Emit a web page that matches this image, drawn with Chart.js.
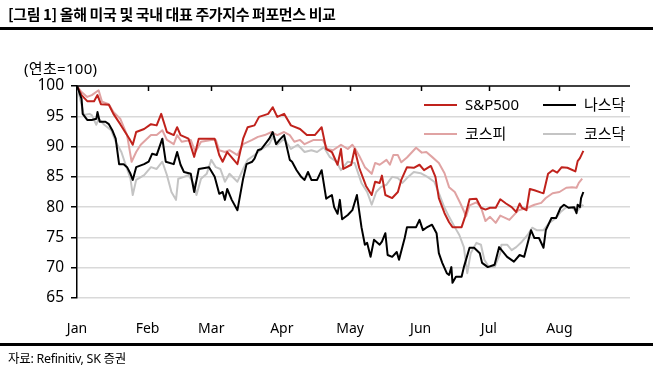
<!DOCTYPE html>
<html>
<head>
<meta charset="utf-8">
<script src="https://cdn.jsdelivr.net/npm/chart.js@4"></script>
<style>
  body { margin: 0; background: #fff; }
  #wrap { position: relative; width: 653px; height: 370px; overflow: hidden;
          font-family: "Noto Sans", "Noto Sans CJK KR", sans-serif; color: #000; }
  #title { position: absolute; left: 8px; top: 3px; font-size: 15px; font-weight: bold;
           font-family: "Noto Sans CJK KR", sans-serif; letter-spacing: -0.4px; }
  #titleRule { position: absolute; left: 0; top: 27px; width: 653px; height: 3px; background: #000; }
  #unit { position: absolute; left: 24px; top: 57px; font-size: 15px; letter-spacing: 0.3px; }
  #srcRule { position: absolute; left: 0; top: 343px; width: 653px; height: 3px; background: #000; }
  #source { position: absolute; left: 8px; top: 348px; font-size: 12.5px; letter-spacing: -0.3px; }
  canvas { position: absolute; left: 0; top: 0; }
  .lg { position: absolute; font-size: 15px; line-height: 18px; }
  .lg i { display: inline-block; width: 33px; height: 2px; vertical-align: middle; margin-right: 8px; position: relative; top: -1px; }
</style>
</head>
<body>
<div id="wrap">
  <canvas id="chart" width="653" height="370"></canvas>
  <div id="title">[그림 1] 올해 미국 및 국내 대표 주가지수 퍼포먼스 비교</div>
  <div id="titleRule"></div>
  <div id="unit">(연초=100)</div>
  <div class="lg" style="left:424px;top:95px"><i style="background:#c0221c"></i>S&amp;P500</div>
  <div class="lg" style="left:543px;top:95px"><i style="background:#000"></i>나스닥</div>
  <div class="lg" style="left:424px;top:124px"><i style="background:#e0a3a3"></i>코스피</div>
  <div class="lg" style="left:543px;top:124px"><i style="background:#c4c4c4"></i>코스닥</div>
  <div id="srcRule"></div>
  <div id="source">자료: Refinitiv, SK 증권</div>
</div>
<script>
// day of year (0 = Jan 1) and index level (start of year = 100)
var monthStarts = [0, 31, 59, 90, 120, 151, 181, 212];
var monthLabels = ['Jan', 'Feb', 'Mar', 'Apr', 'May', 'Jun', 'Jul', 'Aug'];

var spData = [[0,100],[2,98.5],[4.5,97.5],[7.5,97.5],[9,98.5],[10.5,97],[14,96.9],[16,95.4],[19,93.7],[23,91.3],
  [24.5,90.3],[26,92.4],[29.5,92.9],[32.5,93.7],[35,93.5],[37,95.4],[39.5,92.4],[42.5,91.9],[44,93.2],[45.5,91.9],
  [49,91.3],[51.5,88.3],[53.5,91.3],[59,91.3],[60.5,91.3],[62.5,88.6],[64,87.5],[66,89.1],[70.5,87.1],[73,91.3],
  [75,93.2],[78,93.5],[80,94.9],[84,95.4],[86,96.5],[88,94.9],[91,95.4],[94,93.5],[98,92.9],[101,91.9],
  [104.5,91.9],[107.5,93.2],[109.5,89.6],[112,89.1],[114.5,87.0],[116,89.6],[117,86.3],[120.5,87.0],[122,89.6],[124,86.5],
  [127,83.5],[129.5,82.0],[131,84.2],[133,84.0],[134,85.2],[135.5,82.0],[138.5,81.5],[141,82.5],[142.5,84.5],[145,86.6],
  [148,86.5],[150.5,87.0],[152.5,86.1],[155.5,86.8],[157.5,85.0],[159,81.5],[161.5,79.0],[163.5,77.5],[165,76.7],[167,76.7],
  [169,76.7],[170.5,78.4],[172.5,81.3],[175.5,81.4],[177.5,79.9],[179.5,79.6],[181.5,79.9],[184,79.9],[186,81.3],[188.5,80.6],
  [191,80.0],[193,79.2],[194.5,80.6],[195.5,79.9],[197.5,79.5],[199,83.0],[201,82.8],[204,82.4],[205,82.3],[207,85.5],
  [209,86.1],[211,85.7],[213,86.6],[215.5,86.5],[219,85.9],[220,87.6],[221,88.1],[222.5,89.3]];

var nasdaqData = [[0,100],[2,97.9],[2.5,95.4],[4.5,94.4],[6.5,94.4],[8.5,94.6],[9,95.7],[10,94.1],[12.5,94.1],[14,93.7],
  [15.5,92.7],[17,91.3],[18.5,87.1],[20.5,87.1],[22,86.6],[23.5,85.5],[24.5,84.5],[26,86.6],[29.5,87.1],[31.5,87.5],
  [33,88.8],[35,88.6],[37.5,91.3],[39,87.5],[42.5,87.1],[44,89.1],[45.5,87.0],[47,85.8],[50,85.5],[51.5,82.5],
  [53.5,86.3],[58,86.6],[60.5,85.0],[62.5,82.2],[64,82.5],[65,81.2],[66,83.0],[68,81.2],[70.5,79.5],[73,84.7],
  [74.5,87.1],[77,87.5],[78,88.0],[79.5,89.4],[81,89.6],[83.5,90.8],[84.5,91.3],[86,92.4],[87.5,90.4],[89,91.1],
  [91,91.9],[93.5,87.8],[94.5,87.5],[96.5,86.1],[98.5,85.0],[100,84.5],[101.5,85.8],[103,84.5],[105.5,84.5],[107.5,86.1],
  [109.5,81.4],[112,82.0],[113,80.0],[114.5,78.9],[115.5,81.2],[116.5,78.0],[119,78.7],[121,79.5],[123,82.0],[125,76.7],
  [126.5,73.8],[127.5,74.1],[129,71.8],[130.5,74.6],[133,73.8],[134,74.3],[135.5,75.7],[136.5,72.1],[138.5,71.8],[140.5,72.6],
  [141.5,71.3],[144,74.9],[145,76.7],[147.5,76.7],[149,76.7],[150.5,77.9],[152,76.2],[153.5,76.6],[156,77.1],[158,75.7],
  [159,72.4],[160.5,70.8],[162.5,69.1],[163.5,68.8],[164.5,70.1],[165,67.5],[166.5,68.5],[169,68.5],[170,70.1],[172.5,73.3],
  [174.5,73.3],[177,72.4],[178,70.8],[180.5,70.1],[183.5,70.5],[185.5,73.4],[189,71.8],[192,71.0],[194.5,72.1],[196.5,71.8],
  [199.5,76.2],[201,74.9],[203,74.9],[205,73.3],[206,76.2],[208.5,78.2],[210.5,78.2],[212.5,79.9],[214,80.4],[216,79.9],
  [218.5,80.0],[219.5,79.0],[220,80.4],[221,80.0],[221.5,81.5],[222.5,82.5]];

var kospiData = [[0,100],[2,99.0],[4.5,98.2],[6.5,98.5],[9.5,99.3],[11,97.4],[14,97.0],[16,95.7],[19,94.6],[22,91.9],
  [24,87.5],[26,89.1],[28,90.3],[32.5,91.9],[35,91.9],[37.5,92.7],[39.5,91.1],[42.5,90.4],[44,91.9],[46,90.8],
  [50,91.1],[52,89.1],[54.5,90.8],[59,91.1],[61,91.1],[62.5,89.4],[65,89.1],[67,89.4],[70.5,88.6],[73,90.4],
  [77,91.1],[79.5,91.6],[82.5,91.9],[85.5,92.4],[88,91.9],[91,92.4],[93.5,91.9],[95.5,90.8],[98,91.1],[100,90.4],
  [104,91.1],[108,91.1],[110,89.6],[112.5,89.4],[116,90.3],[119,89.6],[121,90.3],[122,89.8],[124,88.5],[126.5,86.6],
  [129.5,85.5],[131,87.3],[133,87.0],[136,87.8],[137.5,87.0],[139,88.6],[141,88.6],[142.5,87.4],[145,88.2],[149,89.8],
  [151.5,89.0],[153.5,89.1],[156,88.3],[159,87.3],[161.5,85.6],[163.5,83.3],[166,82.5],[168.5,80.6],[171,78.5],[172.5,80.3],
  [175.5,80.8],[177.5,80.0],[179.5,77.7],[181.5,78.4],[184,77.4],[186,78.6],[190,77.9],[194,79.5],[198,79.9],[201,80.4],
  [204,80.7],[206,81.5],[209,82.3],[212,82.5],[215,83.2],[217.5,83.3],[219.5,83.2],[220.5,84.0],[222,84.7]];

var kosdaqData = [[0,100],[2,96.9],[3,95.2],[5.5,95.4],[6.5,95.2],[8.5,93.6],[9.5,94.6],[12,93.6],[15,92.7],[17,90.8],
  [19.5,89.1],[22,86.3],[23.5,84.7],[24.5,82.0],[26,84.5],[29.5,85.3],[32.5,86.6],[35,86.3],[37.5,87.5],[39.5,85.3],
  [41.5,82.5],[43.5,81.2],[44.5,84.7],[47,85.0],[49,85.3],[51.5,83.7],[52.5,82.0],[54.5,84.7],[57,85.5],[59,87.8],
  [61,86.6],[63,86.3],[65,84.2],[67,85.5],[70.5,84.2],[73,86.3],[75,87.8],[78,88.6],[80.5,89.4],[82.5,89.9],
  [84.5,90.4],[86,91.6],[88,90.3],[91,91.3],[94,89.6],[97,90.3],[100,89.1],[103,89.4],[105.5,89.1],[108.5,89.9],
  [111,88.3],[114,87.5],[116,86.1],[119,87.5],[122,87.3],[125,84.0],[127.5,82.5],[129.5,80.4],[131.5,82.5],[133.5,83.3],
  [136,83.7],[137.5,84.5],[138.5,85.0],[141,84.8],[143,84.0],[145,84.8],[148,85.8],[151,85.6],[154,85.0],[157,84.2],
  [159,82.3],[161.5,79.9],[163.5,78.4],[166,76.7],[168,75.4],[170,73.4],[171.5,69.1],[173,72.4],[175.5,74.1],[177.5,73.8],
  [179,71.3],[181,70.1],[183.5,70.1],[186,72.4],[186.5,73.8],[189,73.8],[191,72.9],[193,73.4],[195.5,74.3],[198,75.4],
  [200,76.6],[202,76.2],[205,76.2],[207.5,77.4],[210.5,78.2],[212.5,79.2],[215,80.0],[217.5,80.0],[219.5,79.2],[221,79.9],
  [222.5,80.4]];

function pts(arr) {
  return arr.map(function (p) { return { x: p[0], y: p[1] }; });
}

// black top line at 100 with month ticks hanging down
var topAxis = {
  id: 'topAxis',
  afterDatasetsDraw: function (chart) {
    var ctx = chart.ctx, xs = chart.scales.x, a = chart.chartArea;
    var y0 = chart.scales.y.getPixelForValue(100);
    ctx.save();
    ctx.strokeStyle = '#000';
    ctx.lineWidth = 1.5;
    ctx.beginPath();
    ctx.moveTo(a.left, y0);
    ctx.lineTo(a.right, y0);
    monthStarts.forEach(function (d) {
      if (d === 0) return;
      var px = Math.round(xs.getPixelForValue(d)) + 0.5;
      ctx.moveTo(px, y0);
      ctx.lineTo(px, y0 + 5);
    });
    ctx.stroke();
    ctx.restore();
  }
};

var tickFont = { family: '"Noto Sans", "Noto Sans CJK KR", sans-serif', size: 14 };

var config = {
  type: 'line',
  data: {
    datasets: [
      { label: '나스닥', data: pts(nasdaqData), borderColor: '#000000', order: 1 },
      { label: 'S&P500', data: pts(spData), borderColor: '#c0221c', order: 2 },
      { label: '코스닥', data: pts(kosdaqData), borderColor: '#c4c4c4', order: 3 },
      { label: '코스피', data: pts(kospiData), borderColor: '#e0a3a3', order: 4 }
    ]
  },
  options: {
    responsive: false,
    animation: false,
    layout: { padding: { left: 0, top: 86, right: 23, bottom: 0 } },
    elements: {
      line: { borderWidth: 2, tension: 0, borderJoinStyle: 'round' },
      point: { radius: 0 }
    },
    plugins: { legend: { display: false }, tooltip: { enabled: false } },
    scales: {
      x: {
        type: 'linear',
        min: 0,
        max: 243,
        afterBuildTicks: function (s) {
          s.ticks = monthStarts.map(function (d) { return { value: d }; });
        },
        afterFit: function (s) { s.height = 72; },
        ticks: {
          autoSkip: false,
          maxRotation: 0,
          padding: 15,
          color: '#000',
          font: tickFont,
          callback: function (v) {
            var i = monthStarts.indexOf(v);
            return i >= 0 ? monthLabels[i] : '';
          }
        },
        grid: { display: false },
        border: { display: false }
      },
      y: {
        min: 65,
        max: 100,
        afterFit: function (s) { s.width = 77; },
        ticks: { stepSize: 5, padding: 7, color: '#000', font: { family: tickFont.family, size: 15.5 } },
        grid: {
          color: function (c) { return c.tick && c.tick.value === 100 ? 'rgba(0,0,0,0)' : '#d9d9d9'; },
          lineWidth: 1.5,
          tickColor: '#000',
          tickLength: 6
        },
        border: { display: true, color: '#000', width: 1.5 }
      }
    }
  },
  plugins: [topAxis]
};

window.onload = function () {
  var ctx = document.getElementById('chart').getContext('2d');
  window.myChart = new Chart(ctx, config);
};
</script>
</body>
</html>
